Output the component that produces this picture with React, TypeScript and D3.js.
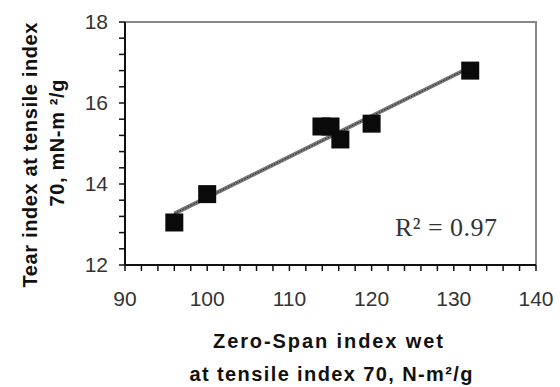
import React from "react";
import * as d3 from "d3";

// values
const zeroSpan = [96, 100, 113.9, 115, 116.2, 120, 132];
const tearIndex = [13.05, 13.75, 15.42, 15.42, 15.1, 15.49, 16.8];
const xTickLabels = [90, 100, 110, 120, 130, 140];
const yTickLabels = [12, 14, 16, 18];
const rSquared = "0.97";

const W = 560;
const H = 387;
const plot = { left: 125, right: 536, top: 22, bottom: 265 };

const App = () => {
  const x = d3.scaleLinear().domain([90, 140]).range([plot.left, plot.right]);
  const y = d3.scaleLinear().domain([12, 18]).range([plot.bottom, plot.top]);

  const pts = zeroSpan.map((v, i) => ({ x: v, y: tearIndex[i] }));

  // least-squares trend line over the points
  const mx = d3.mean(pts, (d) => d.x) as number;
  const my = d3.mean(pts, (d) => d.y) as number;
  const slope =
    d3.sum(pts, (d) => (d.x - mx) * (d.y - my)) / d3.sum(pts, (d) => (d.x - mx) ** 2);
  const x0 = d3.min(zeroSpan) as number;
  const x1 = d3.max(zeroSpan) as number;
  const trend = d3.line<number>()
    .x((v) => x(v))
    .y((v) => y(my + slope * (v - mx)))([x0, x1]) as string;

  const xMinor = d3.range(90, 140.01, 2);
  const yMinor = d3.range(12, 18.01, 0.4);
  const sq = 18;

  const bold = { fontFamily: "Arial, 'Liberation Sans', sans-serif", fontWeight: 700, fontSize: 20, fill: "#111" };
  const tickFont = { fontFamily: "Arial, 'Liberation Sans', sans-serif", fontSize: 21, fill: "#333" };

  return (
    <svg width={W} height={H} style={{ position: "absolute", left: 0, top: 0, background: "#fff" }}>
      {/* frame top/right */}
      <path
        d={`M${plot.left},${plot.top}H${plot.right}V${plot.bottom}`}
        fill="none"
        stroke="#888"
        strokeWidth={2}
      />
      {/* trend line */}
      <path d={trend} stroke="#777" strokeWidth={4} fill="none" />
      <path d={trend} stroke="#222" strokeWidth={1} strokeDasharray="1.5,1.5" fill="none" />

      {pts.map((d, i) => (
        <rect key={i} x={x(d.x) - sq / 2} y={y(d.y) - sq / 2} width={sq} height={sq} fill="#0a0a0a" />
      ))}

      {/* axes */}
      <line x1={plot.left} x2={plot.left} y1={plot.top} y2={plot.bottom} stroke="#111" strokeWidth={2} />
      <line x1={plot.left} x2={plot.right} y1={plot.bottom} y2={plot.bottom} stroke="#111" strokeWidth={2} />
      {xMinor.map((v) => (
        <line key={v} x1={x(v)} x2={x(v)} y1={plot.bottom} y2={plot.bottom + 6} stroke="#111" strokeWidth={1.5} />
      ))}
      {yMinor.map((v) => (
        <line key={v} x1={plot.left - 6} x2={plot.left} y1={y(v)} y2={y(v)} stroke="#111" strokeWidth={1.5} />
      ))}
      {xTickLabels.map((v) => (
        <text key={v} x={x(v)} y={306} textAnchor="middle" style={tickFont}>
          {v}
        </text>
      ))}
      {yTickLabels.map((v) => (
        <text key={v} x={108} y={y(v) + 7} textAnchor="end" style={tickFont}>
          {v}
        </text>
      ))}

      <text x={395} y={236} fontFamily="'Times New Roman', 'Liberation Serif', serif" fontSize={26} fill="#333" textLength={102}>
        R² = {rSquared}
      </text>

      {/* axis titles */}
      <text x={328} y={348} textAnchor="middle" style={bold} textLength={230}>
        Zero-Span index wet
      </text>
      <text x={331} y={381} textAnchor="middle" style={bold} textLength={283}>
        at tensile index 70, N-m²/g
      </text>
      <g transform="translate(37,155) rotate(-90)">
        <text x={0} y={0} textAnchor="middle" style={bold} textLength={265}>
          Tear index at tensile index
        </text>
      </g>
      <g transform="translate(64,143) rotate(-90)">
        <text x={0} y={0} textAnchor="middle" style={bold} textLength={127}>
          70, mN-m ²/g
        </text>
      </g>
    </svg>
  );
};

export default App;
